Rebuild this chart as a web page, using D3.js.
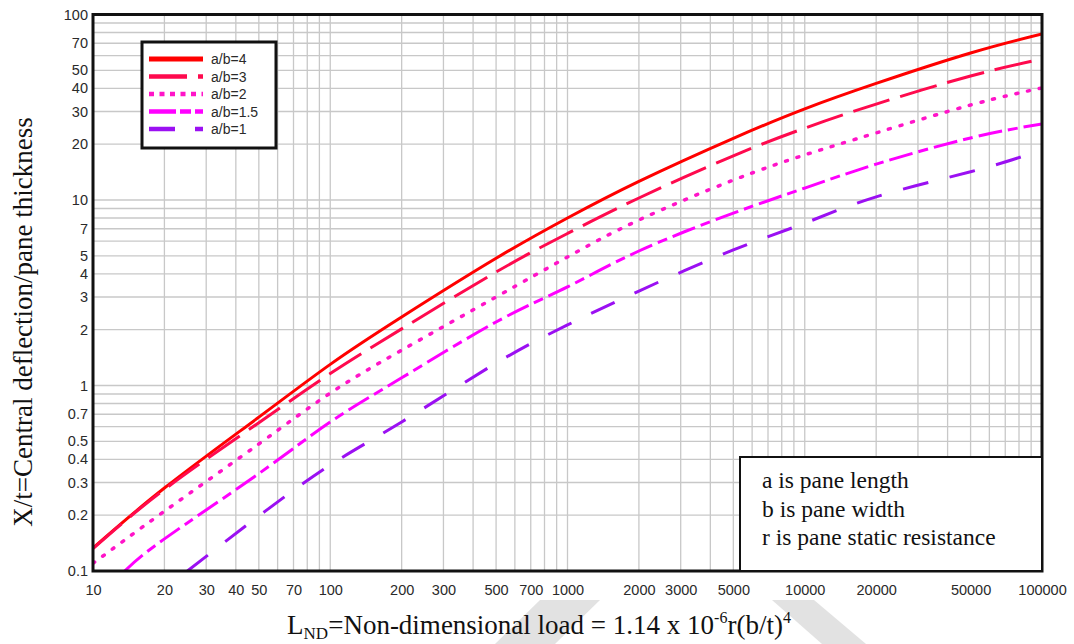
<!DOCTYPE html>
<html>
<head>
<meta charset="utf-8">
<script src="https://cdn.jsdelivr.net/npm/d3@7"></script>
<style>
  html, body { margin: 0; padding: 0; background: #fff; }
  svg { display: block; }
</style>
</head>
<body>
<svg id="chart" width="1074" height="644"></svg>
<script>
// Non-dimensional load (x) against central deflection / thickness (y), per aspect ratio
const seriesNames = ["a/b=4", "a/b=3", "a/b=2", "a/b=1.5", "a/b=1"];

const ab4 = [[10,0.133],[20,0.28],[50,0.675],[100,1.3],[200,2.34],[500,4.85],
  [1000,8.0],[2000,12.6],[5000,21.5],[10000,31],[20000,42.5],[50000,62],[100000,78.5]];
const ab3 = [[10,0.132],[20,0.275],[50,0.63],[100,1.16],[200,2.02],[500,4.09],
  [1000,6.6],[2000,10.25],[5000,17.3],[10000,24.4],[20000,32.9],[50000,46.6],[100000,57.5]];
const ab2 = [[10,0.11],[20,0.21],[50,0.484],[100,0.91],[200,1.55],[500,3.0],[1000,4.93],
  [2000,7.8],[5000,12.8],[10000,17.5],[20000,23],[50000,32.5],[100000,40.2]];
const ab15 = [[13.6,0.1],[20,0.149],[50,0.335],[100,0.636],[200,1.10],[500,2.2],[1000,3.4],
  [2000,5.31],[5000,8.5],[10000,11.6],[20000,15.6],[50000,21.6],[100000,25.7]];
const ab1 = [[25,0.1],[50,0.198],[100,0.373],[200,0.636],[500,1.32],[1000,2.12],[2000,3.23],
  [5000,5.38],[10000,7.5],[20000,10.4],[50000,14.2],[82000,17.1]];

const xTickValues = [10,20,30,40,50,70,100,200,300,500,700,1000,2000,3000,5000,10000,20000,50000,100000];
const yTickValues = [0.1,0.2,0.3,0.4,0.5,0.7,1,2,3,4,5,7,10,20,30,40,50,70,100];

const notes = ["a is pane length", "b is pane width", "r is pane static resistance"];

// Styling per series (chart dash / legend dash)
const styles = [
  { color: "#ff0000", dash: null,        legendDash: null,        cap: "butt",  width: 3   },
  { color: "#ff0a4e", dash: "38,11",     legendDash: "38,11",     cap: "butt",  width: 3   },
  { color: "#ff14c8", dash: "2,10",      legendDash: "5,5.5",     cap: "round", width: 3.5 },
  { color: "#ff00ff", dash: "24,6,10,6", legendDash: "27,4,11,4", cap: "butt",  width: 3   },
  { color: "#9b10f2", dash: "26,22",     legendDash: "26,20",     cap: "butt",  width: 3   }
];
const seriesData = [ab4, ab3, ab2, ab15, ab1];

const svg = d3.select("#chart");
const plotLeft = 93, plotRight = 1042, plotTop = 14.5, plotBottom = 571;

const x = d3.scaleLog().domain([10, 100000]).range([plotLeft, plotRight]);
const y = d3.scaleLog().domain([0.1, 100]).range([plotBottom, plotTop]);

// Faint diagonal bands at the foot of the page
const bandColor = "#e2e2e2";
svg.append("polygon").attr("fill", bandColor)
  .attr("points", [[540,600],[600,600],[555,644],[495,644]].join(" "));
svg.append("polygon").attr("fill", bandColor)
  .attr("points", [[772,600],[814,600],[866,644],[822,644]].join(" "));

// Plot background
svg.append("rect").attr("x", plotLeft).attr("y", plotTop)
  .attr("width", plotRight - plotLeft).attr("height", plotBottom - plotTop).attr("fill", "#fff");

// Grid: every integer multiple within each decade
const grid = svg.append("g").attr("stroke", "#c8c8c8").attr("stroke-width", 1.3);
x.ticks().forEach(v => {
  grid.append("line").attr("x1", x(v)).attr("x2", x(v)).attr("y1", plotTop).attr("y2", plotBottom);
});
y.ticks().forEach(v => {
  grid.append("line").attr("y1", y(v)).attr("y2", y(v)).attr("x1", plotLeft).attr("x2", plotRight);
});

// Curves
svg.append("clipPath").attr("id", "plotClip").append("rect")
  .attr("x", plotLeft).attr("y", plotTop).attr("width", plotRight - plotLeft).attr("height", plotBottom - plotTop);

const line = d3.line().x(d => x(d[0])).y(d => y(d[1])).curve(d3.curveNatural);
const curves = svg.append("g").attr("clip-path", "url(#plotClip)");
seriesData.forEach((data, i) => {
  const s = styles[i];
  curves.append("path")
    .attr("d", line(data))
    .attr("fill", "none")
    .attr("stroke", s.color)
    .attr("stroke-width", s.width)
    .attr("stroke-linecap", s.cap)
    .attr("stroke-dasharray", s.dash);
});

// Frame
svg.append("rect").attr("x", plotLeft).attr("y", plotTop)
  .attr("width", plotRight - plotLeft).attr("height", plotBottom - plotTop)
  .attr("fill", "none").attr("stroke", "#111").attr("stroke-width", 3);

// Tick labels
const tickFont = "'Liberation Sans', Arial, sans-serif";
const xAxis = d3.axisBottom(x).tickValues(xTickValues).tickFormat(d => String(d)).tickSize(0).tickPadding(13.5);
const gx = svg.append("g").attr("transform", `translate(0,${plotBottom})`).call(xAxis);
gx.select(".domain").remove();
gx.selectAll("text").attr("font-family", tickFont).attr("font-size", 14.5).attr("fill", "#2a2a2a");

const yAxis = d3.axisLeft(y).tickValues(yTickValues).tickFormat(d => String(d)).tickSize(0).tickPadding(5);
const gy = svg.append("g").attr("transform", `translate(${plotLeft},0)`).call(yAxis);
gy.select(".domain").remove();
gy.selectAll("text").attr("font-family", tickFont).attr("font-size", 14.5).attr("fill", "#2a2a2a");

// Legend
const lg = svg.append("g");
lg.append("rect").attr("x", 142).attr("y", 42).attr("width", 134).attr("height", 106)
  .attr("fill", "#fff").attr("stroke", "#111").attr("stroke-width", 3);
seriesNames.forEach((name, i) => {
  const s = styles[i];
  const ly = 59 + i * 17.5;
  lg.append("line").attr("x1", 149).attr("x2", 203).attr("y1", ly).attr("y2", ly)
    .attr("stroke", s.color).attr("stroke-width", i === 0 ? 5 : 4.5)
    .attr("stroke-dasharray", s.legendDash);
  lg.append("text").attr("x", 211).attr("y", ly + 5)
    .attr("font-family", tickFont).attr("font-size", 14).attr("fill", "#2a2a2a").text(name);
});

// Notes box
const serif = "'Liberation Serif', 'Times New Roman', serif";
svg.append("rect").attr("x", 740).attr("y", 457).attr("width", plotRight - 740).attr("height", plotBottom - 457)
  .attr("fill", "#fff").attr("stroke", "#111").attr("stroke-width", 2);
notes.forEach((t, i) => {
  svg.append("text").attr("x", 762).attr("y", 488 + i * 28.5)
    .attr("font-family", serif).attr("font-size", 23.5).attr("fill", "#111").text(t);
});

// Axis titles
svg.append("text")
  .attr("transform", "translate(32,322) rotate(-90)")
  .attr("text-anchor", "middle")
  .attr("font-family", serif).attr("font-size", 27).attr("fill", "#111")
  .text("X/t=Central deflection/pane thickness");

const xt = svg.append("text").attr("x", 539).attr("y", 634).attr("text-anchor", "middle")
  .attr("font-family", serif).attr("font-size", 27).attr("fill", "#111");
xt.append("tspan").text("L");
xt.append("tspan").attr("font-size", 17).attr("dy", 5).text("ND");
xt.append("tspan").attr("dy", -5).text("=Non-dimensional load = 1.14 x 10");
xt.append("tspan").attr("font-size", 16).attr("dy", -11).text("-6");
xt.append("tspan").attr("dy", 11).text("r(b/t)");
xt.append("tspan").attr("font-size", 16).attr("dy", -11).text("4");
</script>
</body>
</html>
